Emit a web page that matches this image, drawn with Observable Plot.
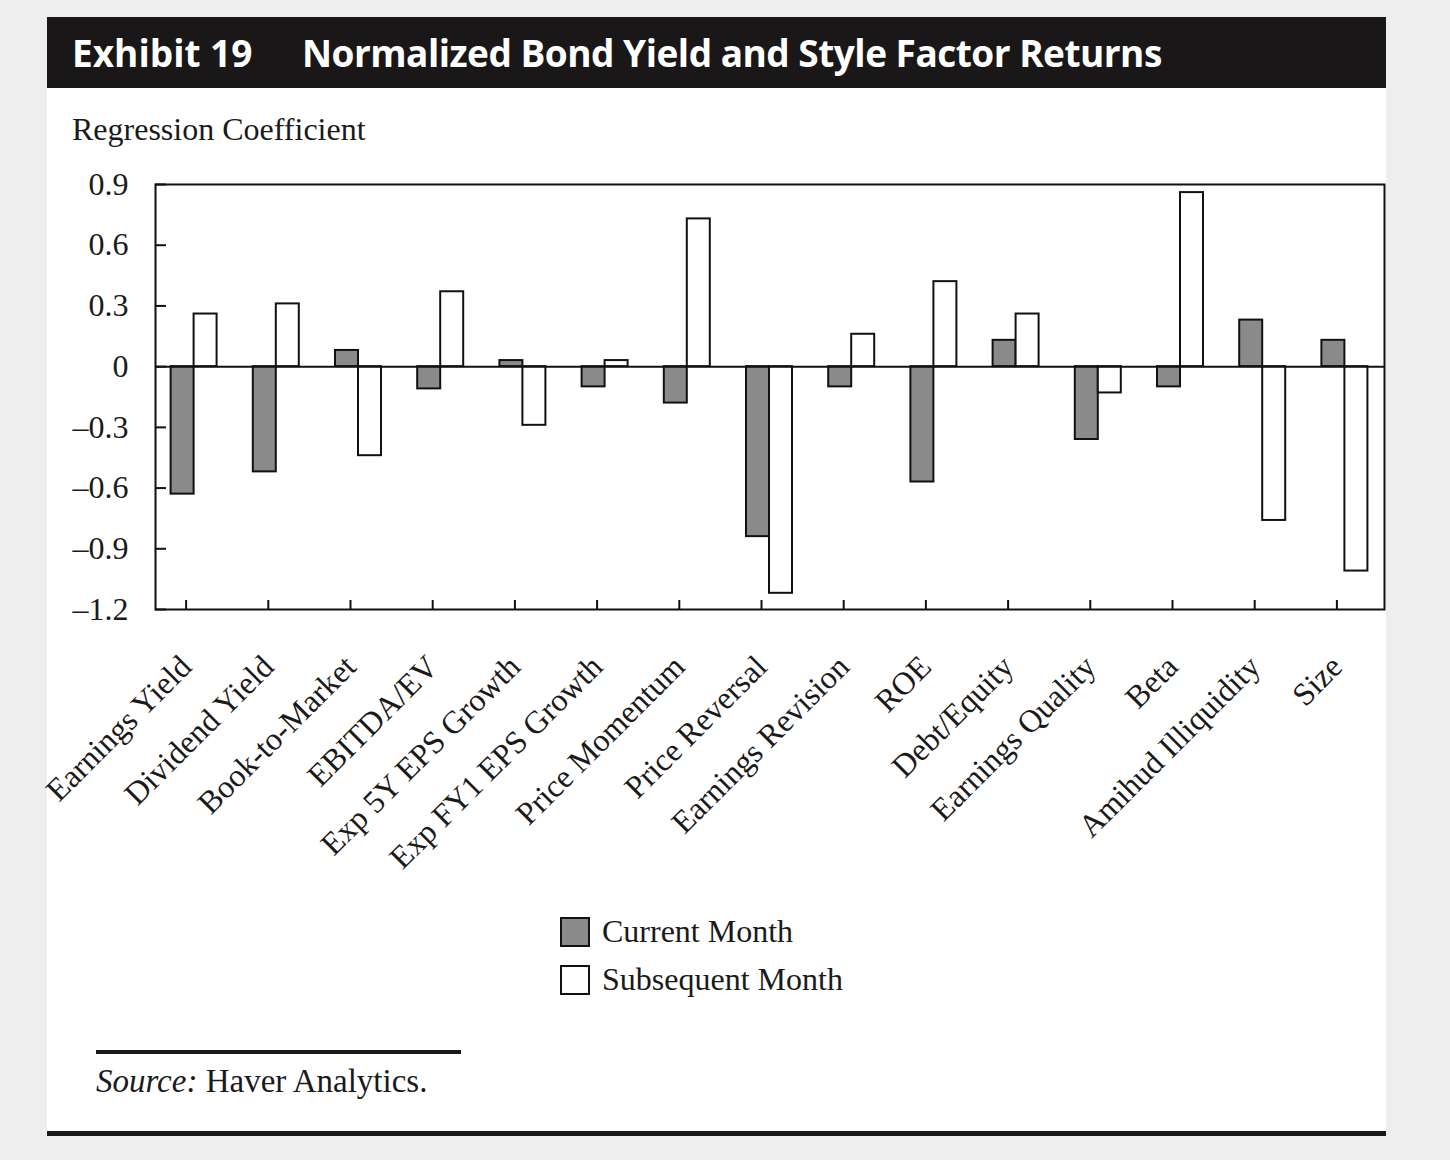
<!DOCTYPE html>
<html><head><meta charset="utf-8">
<script src="https://cdn.jsdelivr.net/npm/d3@7"></script>
<script src="https://cdn.jsdelivr.net/npm/@observablehq/plot@0.6"></script>
<style>
body{margin:0;background:#efeeef;width:1450px;height:1160px;position:relative;overflow:hidden}
#panel{position:absolute;left:47px;top:17px;width:1339px;height:1119px;background:#fff}
#bar{position:absolute;left:0;top:0;width:1339px;height:71px;background:#1a1718}
.t{position:absolute;top:17px;color:#fff;font-family:'Open Sans',Lato,sans-serif;font-weight:700;font-size:37px;line-height:1;white-space:nowrap}
.serif{position:absolute;font-family:'Liberation Serif','Times New Roman',serif;font-size:32px;line-height:1;color:#1a1a1a;white-space:nowrap}
.sw{position:absolute;width:26px;height:26px;border:2px solid #111}
#chart{position:absolute;left:0;top:143px}
.rule{position:absolute;background:#1a1a1a}
</style></head>
<body>
<div id="panel">
  <div id="bar"><div class="t" style="left:25px">Exhibit 19</div><div class="t" id="ttl" style="left:255px;letter-spacing:-0.5px">Normalized Bond Yield and Style Factor Returns</div></div>
  <div class="serif" style="left:25px;top:96px">Regression Coefficient</div>
  <div id="chart"></div>
  <div id="legend"></div>
  <div class="rule" style="left:49px;top:1033px;width:365px;height:4px"></div>
  <div class="serif" style="left:49px;top:1048px;font-size:33px"><i>Source:</i> Haver Analytics.</div>
  <div class="rule" style="left:0;top:1114px;width:1339px;height:5px"></div>
</div>
<script>
const categories = ["Earnings Yield","Dividend Yield","Book-to-Market","EBITDA/EV","Exp 5Y EPS Growth","Exp FY1 EPS Growth","Price Momentum","Price Reversal","Earnings Revision","ROE","Debt/Equity","Earnings Quality","Beta","Amihud Illiquidity","Size"];
const currentMonth = [-0.63,-0.52,0.08,-0.11,0.03,-0.10,-0.18,-0.84,-0.10,-0.57,0.13,-0.36,-0.10,0.23,0.13];
const subsequentMonth = [0.26,0.31,-0.44,0.37,-0.29,0.03,0.73,-1.12,0.16,0.42,0.26,-0.13,0.86,-0.76,-1.01];
const yTicks = [0.9,0.6,0.3,0,-0.3,-0.6,-0.9,-1.2];
const seriesNames = ["Current Month","Subsequent Month"];
const seriesFills = ["#8a8a8a","#ffffff"];

const W=1339, ML=108, MR=2, MT=24, MB=260, H=MT+425+MB;
const xRange=[ML-2.5, W-MR+1.5];
const step=(xRange[1]-xRange[0])/categories.length, barW=23;
const rows = categories.map((c,i)=>({category:c, current:currentMonth[i], subsequent:subsequentMonth[i]}));
const fmt = d => d===0 ? "0" : (d<0 ? "\u2013" : "") + Math.abs(d).toFixed(1);

const chart = Plot.plot({
  width:W, height:H, marginLeft:ML, marginRight:MR, marginTop:MT, marginBottom:MB,
  style:{fontFamily:"'Liberation Serif','Times New Roman',serif", fontSize:"32px", color:"#1a1a1a", background:"transparent", overflow:"visible"},
  x:{type:"band", domain:categories, range:xRange, padding:0, round:false, label:null},
  y:{domain:[-1.2,0.9], label:null},
  marks:[
    Plot.barY(rows,{x:"category", y:"current", fill:seriesFills[0], stroke:"#111", strokeWidth:2, insetLeft:step/2-barW, insetRight:step/2}),
    Plot.barY(rows,{x:"category", y:"subsequent", fill:seriesFills[1], stroke:"#111", strokeWidth:2, insetLeft:step/2, insetRight:step/2-barW}),
    Plot.ruleY([0],{stroke:"#111", strokeWidth:2}),
    Plot.axisY(yTicks,{tickSize:-11, tickPadding:38, tickFormat:fmt, fontSize:32, stroke:"#111", strokeWidth:2, label:null}),
    Plot.axisX({tickSize:-9, tickPadding:61, dx:-8, tickRotate:-45, fontSize:32, stroke:"#111", strokeWidth:2, label:null}),
    Plot.frame({stroke:"#111", strokeWidth:2})
  ]
});
document.getElementById("chart").appendChild(chart);

const lg = document.getElementById("legend");
seriesNames.forEach((name,i)=>{
  const top = 898 + i*48;
  const sw = document.createElement("div");
  sw.className="sw"; sw.style.left="513px"; sw.style.top=(top+2)+"px"; sw.style.background=seriesFills[i];
  lg.appendChild(sw);
  const tx = document.createElement("div");
  tx.className="serif"; tx.style.left="555px"; tx.style.top=top+"px"; tx.textContent=name;
  lg.appendChild(tx);
});
</script>
</body></html>
